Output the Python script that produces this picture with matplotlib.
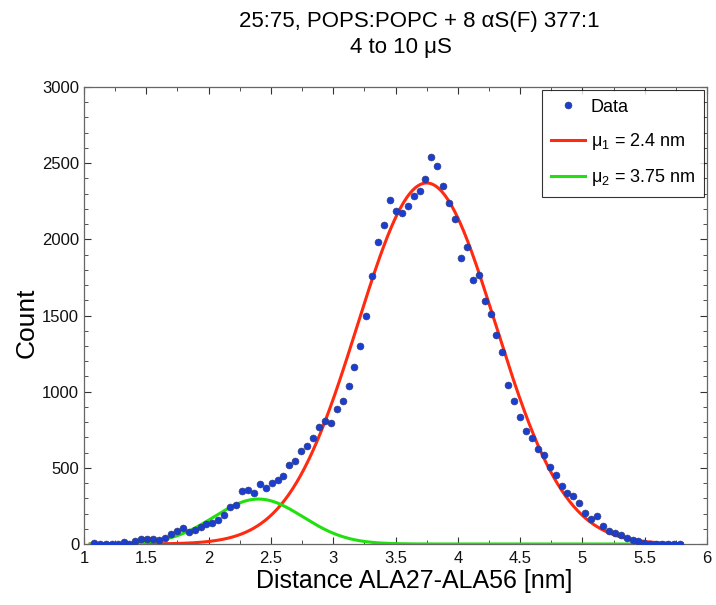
import numpy as np
import matplotlib
matplotlib.use("Agg")
import matplotlib.pyplot as plt
from matplotlib.ticker import MultipleLocator

plt.rcParams['font.family'] = ['Liberation Sans', 'DejaVu Sans']
plt.rcParams['mathtext.fontset'] = 'custom'
plt.rcParams['mathtext.rm'] = 'Liberation Sans'
plt.rcParams['mathtext.it'] = 'Liberation Sans'

title_lines = ["25:75, POPS:POPC + 8 αS(F) 377:1", "4 to 10 μS"]
x_label = "Distance ALA27-ALA56 [nm]"
y_label = "Count"

distance = [1.080, 1.128, 1.175, 1.223, 1.270, 1.318, 1.365, 1.413, 1.460, 1.508,
            1.555, 1.603, 1.650, 1.698, 1.745, 1.793, 1.840, 1.888, 1.935, 1.983,
            2.030, 2.078, 2.125, 2.173, 2.220, 2.268, 2.315, 2.363, 2.410, 2.458,
            2.505, 2.553, 2.600, 2.648, 2.695, 2.743, 2.790, 2.838, 2.885, 2.933,
            2.980, 3.028, 3.075, 3.123, 3.170, 3.218, 3.265, 3.313, 3.360, 3.408,
            3.455, 3.503, 3.550, 3.598, 3.645, 3.693, 3.740, 3.788, 3.835, 3.883,
            3.930, 3.978, 4.025, 4.073, 4.120, 4.168, 4.215, 4.263, 4.310, 4.358,
            4.405, 4.453, 4.500, 4.548, 4.595, 4.643, 4.690, 4.738, 4.785, 4.833,
            4.880, 4.928, 4.975, 5.023, 5.070, 5.118, 5.165, 5.213, 5.260, 5.308,
            5.355, 5.403, 5.450, 5.498, 5.545, 5.593, 5.640, 5.688, 5.735, 5.783]

counts = [5, 0, 0, 2, 0, 14, 2, 18, 32, 30,
          30, 27, 41, 67, 84, 102, 82, 93, 110, 130,
          140, 158, 190, 241, 258, 346, 354, 337, 394, 368,
          398, 422, 449, 519, 547, 608, 646, 696, 766, 810,
          797, 887, 936, 1036, 1165, 1297, 1496, 1758, 1983, 2096,
          2255, 2183, 2175, 2221, 2282, 2315, 2398, 2540, 2483, 2347,
          2240, 2134, 1878, 1949, 1730, 1769, 1597, 1509, 1373, 1260,
          1041, 936, 833, 745, 696, 622, 586, 504, 454, 380,
          336, 318, 268, 205, 165, 187, 115, 84, 71, 56,
          41, 28, 18, 8, 2, 0, 0, 0, 0, 2]

# Gaussian fit parameters (amplitude, centre, width)
fit_red = {"amp": 2370, "mu": 3.75, "sigma": 0.555}
fit_green = {"amp": 295, "mu": 2.40, "sigma": 0.355}
legend_labels = ["Data", "μ$_1$ = 2.4 nm", "μ$_2$ = 3.75 nm"]

W, H = 716, 605
fig = plt.figure(figsize=(W/100, H/100), dpi=100)
ax = fig.add_axes([84/W, 1-544/H, (707-84)/W, (544-87)/H])

xs = np.linspace(1.05, 5.80, 600)
def gauss(p, x):
    return p["amp"] * np.exp(-(x - p["mu"])**2 / (2 * p["sigma"]**2))

ax.plot(distance, counts, 'o', color='#1a3fd0', markeredgecolor='#3a3a6a',
        markeredgewidth=0.4, markersize=5, label=legend_labels[0], zorder=3)
ax.plot(xs, gauss(fit_red, xs), color='#ff2a10', lw=2.2, label=legend_labels[1], zorder=2)
ax.plot(xs, gauss(fit_green, xs), color='#22e010', lw=2.2, label=legend_labels[2], zorder=2)

ax.set_xlim(1, 6)
ax.set_ylim(0, 3000)
ax.xaxis.set_major_locator(MultipleLocator(0.5))
ax.xaxis.set_minor_locator(MultipleLocator(0.25))
ax.yaxis.set_major_locator(MultipleLocator(500))
ax.yaxis.set_minor_locator(MultipleLocator(100))
ax.xaxis.set_major_formatter(matplotlib.ticker.FuncFormatter(lambda v, p: f"{v:g}"))
ax.tick_params(which='both', direction='in', top=True, right=True, colors='#333333',
               labelcolor='#111111', labelsize=12)
ax.tick_params(which='major', length=5, width=0.8)
ax.tick_params(axis='x', which='major', pad=5)
ax.tick_params(which='minor', length=3, width=0.6)
for s in ax.spines.values():
    s.set_color('#666666')
    s.set_linewidth(0.9)

fig.text(414/W, 1-581/H, x_label, ha='center', va='center', fontsize=18)
fig.text(27/W, 1-323/H, y_label, ha='center', va='center', fontsize=19, rotation=90)

fig.text(419/W, 1-22/H, title_lines[0], ha='center', va='center', fontsize=16)
fig.text(401/W, 1-48/H, title_lines[1], ha='center', va='center', fontsize=16)

leg = ax.legend(loc='upper right', fontsize=13, frameon=True, fancybox=False,
                edgecolor='black', borderaxespad=0.15, handlelength=1.9,
                handletextpad=0.3, numpoints=1, labelspacing=0.85, borderpad=0.5)
leg.get_frame().set_linewidth(0.8)

fig.savefig("out.png", dpi=100)
